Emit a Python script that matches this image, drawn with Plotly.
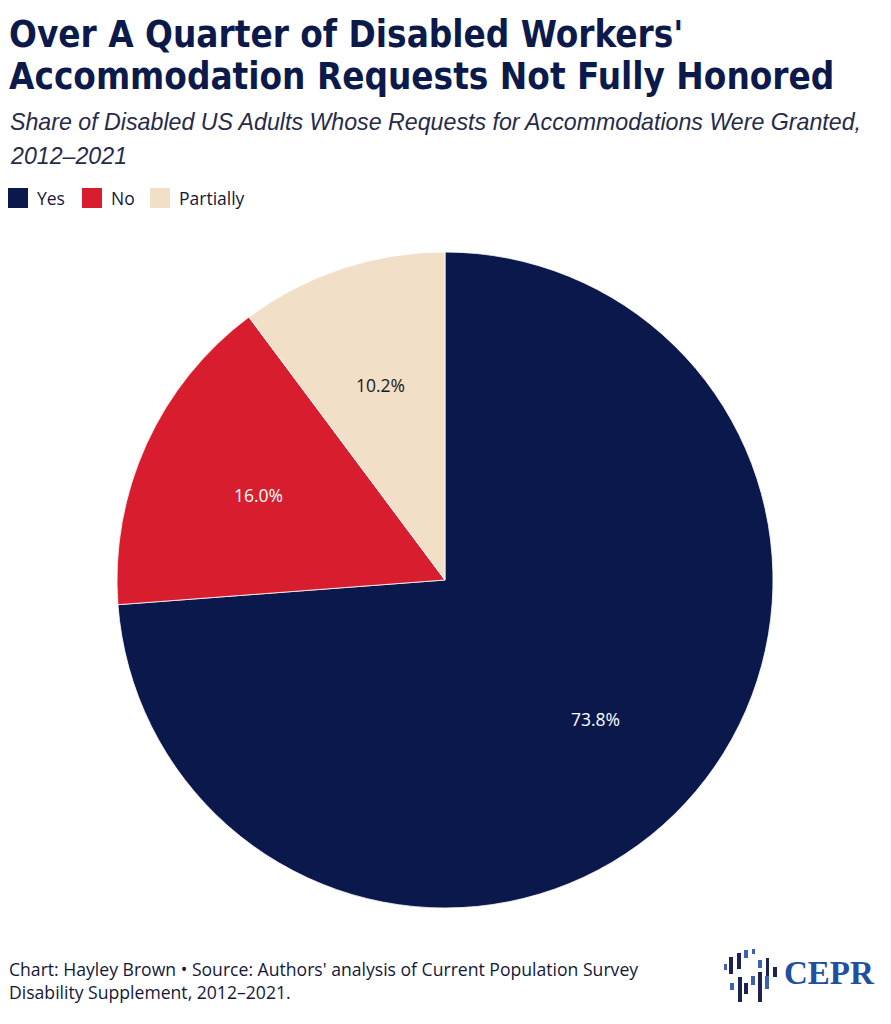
import math
import plotly.graph_objects as go

# ---- data ----
categories = ["Yes", "No", "Partially"]
values = [73.8, 16.0, 10.2]
label_text = ["73.8%", "16.0%", "10.2%"]
colors = ["#0b184b", "#d81e2e", "#f1dfc8"]
text_colors = ["#ffffff", "#ffffff", "#1a1a1a"]

title_lines = ["Over A Quarter of Disabled Workers'", "Accommodation Requests Not Fully Honored"]
subtitle_lines = ["Share of Disabled US Adults Whose Requests for Accommodations Were Granted,", "2012–2021"]
footer = "Chart: Hayley Brown • Source: Authors' analysis of Current Population Survey<br>Disability Supplement, 2012–2021."

W, H = 891, 1024
NAVY = "#0c1a4b"


def px(x):
    return x / W


def py(y):
    return 1 - y / H


# pie geometry (pixels)
CX, CY, R = 445, 580, 328

fig = go.Figure()
fig.add_trace(go.Pie(
    labels=categories,
    values=values,
    sort=False,
    direction="clockwise",
    rotation=0,
    marker=dict(colors=colors, line=dict(color="#ffffff", width=0.8)),
    textinfo="none",
    hoverinfo="label+percent",
    showlegend=False,
    domain=dict(x=[px(CX - R), px(CX + R)], y=[py(CY + R), py(CY - R)]),
))

annotations = []
shapes = []

# slice labels placed at mid-angle of each slice
total = sum(values)
cum = 0.0
for v, t, tc in zip(values, label_text, text_colors):
    mid = (cum + v / 2) / total * 2 * math.pi
    cum += v
    r = 0.625 * R
    lx = CX + r * math.sin(mid)
    ly = CY - r * math.cos(mid)
    annotations.append(dict(
        x=px(lx), y=py(ly), xref="paper", yref="paper", text=t, showarrow=False,
        font=dict(family="Open Sans", size=17.5, color=tc), xanchor="center", yanchor="middle"))

# title
for i, line in enumerate(title_lines):
    annotations.append(dict(
        x=px(7), y=py(34 + i * 42), xref="paper", yref="paper", text=line, showarrow=False,
        xanchor="left", yanchor="middle",
        font=dict(family="Liberation Sans Narrow, DejaVu Sans Condensed, sans-serif", size=36.5,
                  color=NAVY, weight="bold")))

# subtitle
for i, line in enumerate(subtitle_lines):
    annotations.append(dict(
        x=px(8), y=py(122 + i * 34), xref="paper", yref="paper", text=line, showarrow=False,
        xanchor="left", yanchor="middle", align="left",
        font=dict(family="Liberation Sans", size=23.2, color="#262b4a", style="italic")))

# custom legend
leg_x = [8, 82, 150]
for xpos, cat, col in zip(leg_x, categories, colors):
    shapes.append(dict(type="rect", xref="paper", yref="paper",
                       x0=px(xpos), x1=px(xpos + 20), y0=py(208), y1=py(188),
                       fillcolor=col, line=dict(width=0)))
    annotations.append(dict(
        x=px(xpos + 27), y=py(198), xref="paper", yref="paper", text=cat, showarrow=False,
        xanchor="left", yanchor="middle",
        font=dict(family="Open Sans", size=17.5, color="#141838")))

# footer
annotations.append(dict(
    x=px(7), y=py(955), xref="paper", yref="paper", text=footer, showarrow=False,
    xanchor="left", yanchor="top", align="left",
    font=dict(family="Open Sans", size=17.6, color="#141838")))

# CEPR logo (decorative)
DARK = "#1c2252"
BLUE = "#3d63b0"
logo_bits = [
    (724, 727, 964, 970, BLUE), (729, 733, 957, 974, DARK), (737, 741, 953, 969, DARK),
    (744, 748, 950, 958, BLUE), (752, 755, 949, 954, BLUE), (758, 762, 960, 968, BLUE),
    (766, 769, 958, 979, DARK), (773, 777, 967, 977, DARK),
    (730, 734, 983, 990, BLUE), (738, 742, 977, 1002, DARK), (744, 748, 983, 994, DARK),
    (751, 755, 976, 985, BLUE), (758, 762, 972, 1002, DARK), (765, 769, 976, 989, BLUE),
]
for x0, x1, y0, y1, c in logo_bits:
    shapes.append(dict(type="rect", xref="paper", yref="paper",
                       x0=px(x0), x1=px(x1), y0=py(y1), y1=py(y0),
                       fillcolor=c, line=dict(width=0), layer="above"))
annotations.append(dict(
    x=px(782), y=py(973), xref="paper", yref="paper", text="CEPR", showarrow=False,
    xanchor="left", yanchor="middle",
    font=dict(family="Liberation Serif", size=33, color="#1f4f9e", weight="bold")))

fig.update_layout(
    width=W, height=H,
    margin=dict(l=0, r=0, t=0, b=0),
    paper_bgcolor="#ffffff",
    plot_bgcolor="#ffffff",
    annotations=annotations,
    shapes=shapes,
)

fig.write_html("out.html")
